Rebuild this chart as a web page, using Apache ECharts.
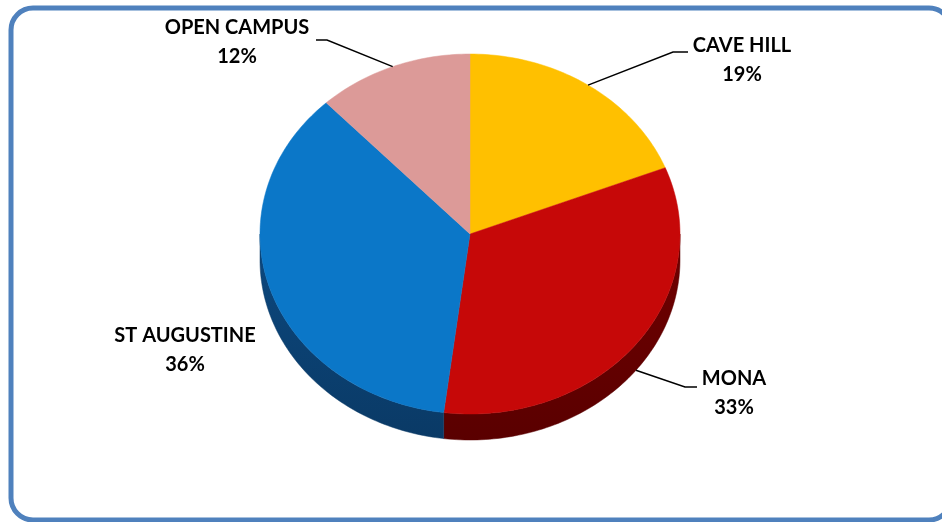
<!DOCTYPE html>
<html>
<head>
<meta charset="utf-8">
<script src="https://cdn.jsdelivr.net/npm/echarts@6/dist/echarts.min.js"></script>
<style>
html, body { margin: 0; padding: 0; background: #fff; }
#main { width: 942px; height: 522px; }
</style>
</head>
<body>
<div id="main"></div>
<script>
var campuses = ["CAVE HILL", "MONA", "ST AUGUSTINE", "OPEN CAMPUS"];
var shares = [19, 33, 36, 12];
var topColors = ["#FFC000", "#C60808", "#0B77C8", "#DC9A98"];
var sideColors = ["#8A6800", "#5A0000", "#0A3A66", "#7A4A49"];

// tilted pie: top face is an ellipse, side drawn below it
var cx = 470, cy = 234, rx = 210, ry = 180, depth = 26;
// text centre and leader elbow/end for each label (null = no leader)
var labelPos = [[742, 60], [734, 393], [185, 350], [237, 42]];
var leaders = [[[673, 52], [688, 52]], [[685, 387], [697, 387]], null, [[327, 40], [316, 40]]];

var total = shares.reduce(function (s, v) { return s + v; }, 0);

function pt(t, dy) {
  return [cx + rx * Math.sin(t), cy - ry * Math.cos(t) + (dy || 0)];
}
function arc(a, b, dy) {
  var n = Math.max(2, Math.ceil((b - a) / 0.02));
  var pts = [];
  for (var k = 0; k <= n; k++) pts.push(pt(a + (b - a) * k / n, dy));
  return pts;
}
function angles(i, v) {
  var before = 0;
  for (var j = 0; j < i; j++) before += shares[j];
  return [before / total * Math.PI * 2, (before + v) / total * Math.PI * 2];
}

var chart = echarts.init(document.getElementById("main"));
chart.setOption({
  animation: false,
  graphic: [{
    type: "rect",
    shape: { x: 11, y: 8, width: 940, height: 512, r: 22 },
    style: { fill: "none", stroke: "#4F81BD", lineWidth: 5 }
  }],
  series: [
    {
      // side of the pie
      type: "custom",
      coordinateSystem: "none",
      data: shares,
      z: 1,
      renderItem: function (params, api) {
        var i = params.dataIndex;
        var ab = angles(i, api.value(0));
        var a = Math.max(ab[0], Math.PI / 2), b = Math.min(ab[1], Math.PI * 1.5);
        if (b <= a) return { type: "group", children: [] };
        var pts = arc(a, b, 0).concat(arc(a, b, depth).reverse());
        return {
          type: "polygon",
          shape: { points: pts },
          style: {
            fill: new echarts.graphic.LinearGradient(0, 0, 0, 1, [
              { offset: 0, color: echarts.color.lift(sideColors[i], -0.25) },
              { offset: 1, color: sideColors[i] }
            ]),
            stroke: sideColors[i],
            lineWidth: 0.5
          }
        };
      }
    },
    {
      // top face + labels
      type: "custom",
      coordinateSystem: "none",
      data: shares,
      z: 2,
      renderItem: function (params, api) {
        var i = params.dataIndex;
        var v = api.value(0);
        var ab = angles(i, v);
        var children = [{
          type: "polygon",
          shape: { points: [[cx, cy]].concat(arc(ab[0], ab[1], 0)) },
          style: { fill: topColors[i], stroke: topColors[i], lineWidth: 0.5 }
        }];
        var mid = (ab[0] + ab[1]) / 2;
        var lower = mid > Math.PI / 2 && mid < Math.PI * 1.5;
        if (leaders[i]) {
          children.push({
            type: "polyline",
            shape: { points: [pt(mid, lower ? depth : 0)].concat(leaders[i]) },
            style: { stroke: "#000", lineWidth: 1.5, fill: "none" },
            z2: 5
          });
        }
        children.push({
          type: "text",
          x: labelPos[i][0],
          y: labelPos[i][1],
          z2: 5,
          style: {
            text: campuses[i] + "\n" + Math.round(v / total * 100) + "%",
            align: "center",
            verticalAlign: "middle",
            lineHeight: 29,
            fontFamily: "Lato",
            fontWeight: "bold",
            fontSize: 20,
            fill: "#000"
          }
        });
        return { type: "group", children: children };
      }
    }
  ]
});
</script>
</body>
</html>
